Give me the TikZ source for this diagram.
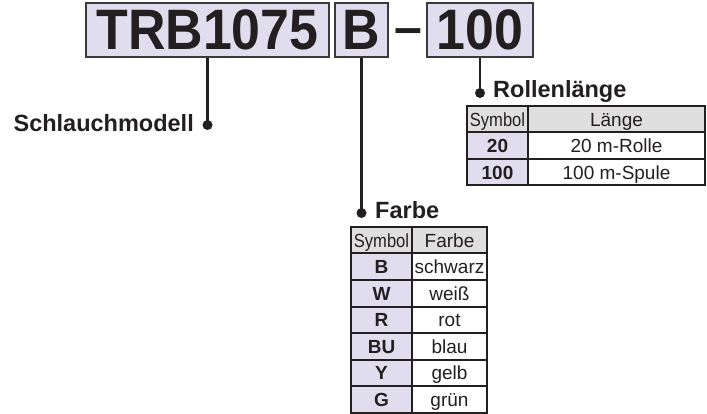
\documentclass[tikz,border=0pt]{standalone}
\usepackage{fontspec}
\setmainfont{Liberation Sans}
\newfontfamily\codefont[FakeStretch=0.91]{Liberation Sans}
\newfontfamily\narrowfont[FakeStretch=0.87]{Liberation Sans}
\usepackage{tikz}
\usetikzlibrary{positioning}
\definecolor{ink}{HTML}{231F20}
\definecolor{lav}{HTML}{E0DDEF}
\definecolor{headgray}{HTML}{DFDFDF}
\definecolor{frame}{HTML}{3A3A3A}

\begin{document}
\begin{tikzpicture}[x=1pt, y=-1pt,
  code/.style={draw=frame, line width=2.5pt, fill=lav, inner sep=0pt, minimum height=54pt,
               font=\codefont\fontsize{57}{60}\selectfont\bfseries, text=ink},
  dot/.style={circle, fill=ink, inner sep=0pt, minimum size=10pt},
  conn/.style={draw=ink, line width=2.7pt},
  title/.style={inner sep=0pt, font=\fontsize{23.5}{28}\selectfont\bfseries, text=ink},
  cell/.style={draw=ink, line width=2pt, inner sep=0pt, outer sep=0pt, minimum height=26.5pt,
               text height=17.6pt, text depth=4pt, text=ink, font=\fontsize{19}{22}\selectfont},
  head/.style={cell, fill=headgray},
  sym/.style={cell, fill=lav, minimum width=61pt, font=\fontsize{19}{22}\selectfont\bfseries}
]
  \useasboundingbox (0,0) rectangle (707,414);

  % order code
  \node[code, minimum width=243pt] (model) at (207.5,30) {TRB1075};
  \node[code, minimum width=53pt] (color) at (361.5,30) {B};
  \node[inner sep=0pt, anchor=base, text=ink,
        font=\fontsize{50}{50}\selectfont\bfseries] (dash) at (408.5,44.5) {–};
  \node[code, minimum width=106pt] (length) at (480,30) {100};

  % leaders
  \node[dot] (dmodel) at (207.5,125) {};
  \node[dot] (dcolor) at (361.5,213) {};
  \node[dot] (dlength) at (480,93) {};
  \draw[conn] (model.south) -- (dmodel.center);
  \draw[conn] (color.south) -- (dcolor.center);
  \draw[conn] (length.south) -- (dlength.center);

  \node[title, anchor=base east] (tmodel) at (194,132) {Schlauchmodell};
  \node[title, anchor=base west] (tlength) at (493,97.5) {Rollenlänge};
  \node[title, anchor=base west] (tcolor) at (375,219) {Farbe};

  % Rollenlänge table
  \node[head, minimum width=61pt] (lhead) at (497.5,119.25) {\narrowfont Symbol};
  \node[head, minimum width=177pt, right=0pt of lhead] (lheadb) {Länge};
  \node[sym, below=0pt of lhead] (l20) {20};
  \node[cell, minimum width=177pt, right=0pt of l20] (l20t) {20 m-Rolle};
  \node[sym, below=0pt of l20] (l100) {100};
  \node[cell, minimum width=177pt, right=0pt of l100] (l100t) {100 m-Spule};

  % Farbe table
  \node[head, minimum width=61pt] (chead) at (381.5,240.25) {\narrowfont Symbol};
  \node[head, minimum width=75pt, right=0pt of chead] (cheadb) {Farbe};
  \node[sym, below=0pt of chead] (cb) {B};
  \node[cell, minimum width=75pt, right=0pt of cb] (cbt) {schwarz};
  \node[sym, below=0pt of cb] (cw) {W};
  \node[cell, minimum width=75pt, right=0pt of cw] (cwt) {weiß};
  \node[sym, below=0pt of cw] (cr) {R};
  \node[cell, minimum width=75pt, right=0pt of cr] (crt) {rot};
  \node[sym, below=0pt of cr] (cbu) {BU};
  \node[cell, minimum width=75pt, right=0pt of cbu] (cbut) {blau};
  \node[sym, below=0pt of cbu] (cy) {Y};
  \node[cell, minimum width=75pt, right=0pt of cy] (cyt) {gelb};
  \node[sym, below=0pt of cy] (cg) {G};
  \node[cell, minimum width=75pt, right=0pt of cg] (cgt) {grün};
\end{tikzpicture}
\end{document}
